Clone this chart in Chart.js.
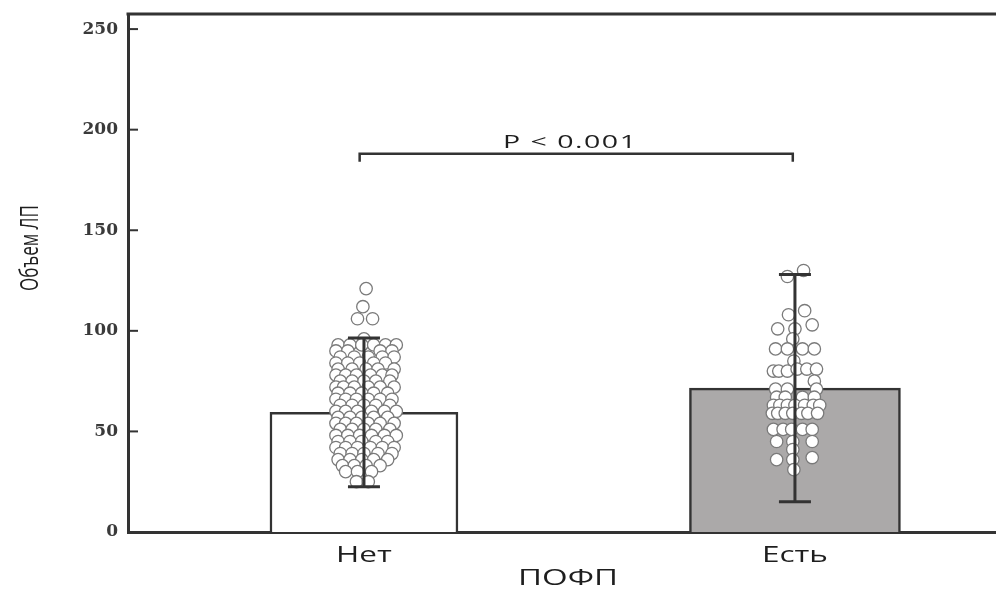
<!DOCTYPE html>
<html>
<head>
<meta charset="utf-8">
<script src="https://cdn.jsdelivr.net/npm/chart.js@4"></script>
<style>
  html, body { margin: 0; padding: 0; background: #fff; overflow: hidden; }
  #wrap { width: 996px; height: 595px; }
  canvas { display: block; }
</style>
</head>
<body>
<div id="wrap"><canvas id="chart"></canvas></div>
<script>
// groups on the x axis (x = 1 and x = 3)
const groups = ["Нет", "Есть"];
const groupX = [1, 3];
const means = [59.5, 71.5];
const sdLow = [22.5, 15];
const sdHigh = [96.5, 128];
const yTicks = [0, 50, 100, 150, 200, 250];

// individual observations, [x, y]
const netPoints = [
  [1.01, 121], [0.995, 112], [0.97, 106], [1.04, 106], [1.0, 96],
  [0.88, 93], [0.935, 93], [0.99, 93], [1.045, 93], [1.10, 93], [1.15, 93],
  [0.87, 90], [0.925, 90], [1.075, 90], [1.13, 90],
  [0.89, 87], [0.955, 87], [1.02, 87], [1.085, 87], [1.14, 87],
  [0.87, 84], [0.925, 84], [0.98, 84], [1.045, 84], [1.10, 84],
  [0.88, 81], [0.945, 81], [1.01, 81], [1.065, 81], [1.14, 81],
  [0.87, 78], [0.915, 78], [0.965, 78], [1.03, 78], [1.085, 78], [1.13, 78],
  [0.89, 75], [0.945, 75], [1.0, 75], [1.055, 75], [1.12, 75],
  [0.87, 72], [0.905, 72], [0.955, 72], [1.02, 72], [1.075, 72], [1.14, 72],
  [0.88, 69], [0.935, 69], [0.99, 69], [1.045, 69], [1.11, 69],
  [0.87, 66], [0.915, 66], [0.965, 66], [1.02, 66], [1.075, 66], [1.13, 66],
  [0.89, 63], [0.945, 63], [1.0, 63], [1.055, 63], [1.12, 63],
  [0.87, 60], [0.915, 60], [0.97, 60], [1.035, 60], [1.095, 60], [1.15, 60],
  [0.88, 57], [0.935, 57], [0.99, 57], [1.045, 57], [1.11, 57],
  [0.87, 54], [0.915, 54], [0.965, 54], [1.02, 54], [1.075, 54], [1.14, 54],
  [0.89, 51], [0.945, 51], [1.0, 51], [1.055, 51], [1.12, 51],
  [0.87, 48], [0.925, 48], [0.98, 48], [1.035, 48], [1.095, 48], [1.15, 48],
  [0.88, 45], [0.935, 45], [0.99, 45], [1.055, 45], [1.11, 45],
  [0.87, 42], [0.915, 42], [0.97, 42], [1.03, 42], [1.085, 42], [1.14, 42],
  [0.89, 39], [0.945, 39], [1.0, 39], [1.065, 39], [1.13, 39],
  [0.88, 36], [0.935, 36], [0.99, 36], [1.045, 36], [1.11, 36],
  [0.90, 33], [0.955, 33], [1.01, 33], [1.075, 33],
  [0.915, 30], [0.97, 30], [1.035, 30],
  [0.965, 25], [1.02, 25]
];

const estPoints = [
  [2.965, 127], [3.04, 130],
  [2.97, 108], [3.045, 110],
  [2.92, 101], [3.0, 101], [3.08, 103],
  [2.99, 96],
  [2.91, 91], [2.965, 91], [3.035, 91], [3.09, 91],
  [2.995, 85],
  [2.90, 80], [2.925, 80], [2.965, 80], [3.01, 81], [3.055, 81], [3.10, 81],
  [3.09, 75],
  [2.91, 71], [2.965, 71], [3.10, 71],
  [2.915, 67], [2.955, 67], [3.035, 67], [3.09, 67],
  [2.90, 63], [2.93, 63], [2.965, 63], [3.0, 63], [3.045, 63], [3.085, 63], [3.115, 63],
  [2.895, 59], [2.92, 59], [2.955, 59], [2.99, 59], [3.03, 59], [3.06, 59], [3.105, 59],
  [2.90, 51], [2.945, 51], [2.985, 51], [3.035, 51], [3.08, 51],
  [2.915, 45], [2.99, 45], [3.08, 45],
  [2.99, 41],
  [2.915, 36], [2.99, 36], [3.08, 37],
  [2.995, 31]
];

// significance bracket
const bracketFrom = 0.98;
const bracketTo = 2.99;
const bracketY = 188;
const bracketLabel = "P < 0.001";

const INK = "#333";
const STRETCH = 1.5; // the scanned figure is wider than tall, text looks stretched

// draw a scale's labels and title stretched horizontally
function stretchScale(scale) {
  if (scale._stretched) return;
  scale._stretched = true;
  const proto = Object.getPrototypeOf(scale);
  scale.drawLabels = function (area) {
    const items = this.getLabelItems(area);
    const kept = items.map(it => it.options.translation);
    items.forEach((it, i) => { it.options.translation = [kept[i][0] / STRETCH, kept[i][1]]; });
    this.ctx.save();
    this.ctx.scale(STRETCH, 1);
    proto.drawLabels.call(this, area);
    this.ctx.restore();
    items.forEach((it, i) => { it.options.translation = kept[i]; });
  };
  scale.drawTitle = function () {
    const l = this.left, r = this.right;
    this.left = (l + 6) / STRETCH; this.right = (r + 6) / STRETCH;
    this.ctx.save();
    this.ctx.scale(STRETCH, 1);
    proto.drawTitle.call(this);
    this.ctx.restore();
    this.left = l; this.right = r;
  };
}

const extras = {
  id: "extras",
  beforeDraw(chart) {
    stretchScale(chart.scales.x);
  },
  afterDatasetsDraw(chart) {
    const ctx = chart.ctx;
    const x = chart.scales.x, y = chart.scales.y;
    const area = chart.chartArea;
    ctx.save();
    ctx.strokeStyle = INK;
    ctx.lineCap = "butt";

    // error bars
    ctx.lineWidth = 3;
    groupX.forEach((gx, i) => {
      const px = x.getPixelForValue(gx);
      const top = y.getPixelForValue(sdHigh[i]);
      const bot = y.getPixelForValue(sdLow[i]);
      ctx.beginPath();
      ctx.moveTo(px, top); ctx.lineTo(px, bot);
      ctx.moveTo(px - 16, top); ctx.lineTo(px + 16, top);
      ctx.moveTo(px - 16, bot); ctx.lineTo(px + 16, bot);
      ctx.stroke();
    });

    // top frame line
    ctx.lineWidth = 3;
    ctx.beginPath();
    ctx.moveTo(area.left - 1.5, area.top);
    ctx.lineTo(chart.width, area.top);
    ctx.stroke();

    // inside tick marks on y axis
    ctx.lineWidth = 2;
    yTicks.forEach(v => {
      const py = y.getPixelForValue(v);
      ctx.beginPath();
      ctx.moveTo(area.left, py); ctx.lineTo(area.left + 10, py);
      ctx.stroke();
    });

    // bracket
    const bx1 = x.getPixelForValue(bracketFrom);
    const bx2 = x.getPixelForValue(bracketTo);
    const by = y.getPixelForValue(bracketY);
    ctx.lineWidth = 2.5;
    ctx.beginPath();
    ctx.moveTo(bx1, by + 8); ctx.lineTo(bx1, by); ctx.lineTo(bx2, by); ctx.lineTo(bx2, by + 8);
    ctx.stroke();

    ctx.fillStyle = "#1e1e1e";
    ctx.textAlign = "center";
    ctx.textBaseline = "alphabetic";
    ctx.save();
    ctx.translate((bx1 + bx2) / 2 - 6, by - 6);
    ctx.scale(STRETCH, 1);
    ctx.font = "19px 'Open Sans'";
    ctx.letterSpacing = "1px";
    ctx.fillText(bracketLabel, 0, 0);
    ctx.restore();

    // y axis title
    ctx.translate(31, 248);
    ctx.rotate(-Math.PI / 2);
    ctx.scale(1, STRETCH);
    ctx.font = "17px 'Open Sans'";
    ctx.textBaseline = "middle";
    ctx.fillText("Объем ЛП", 0, 0);
    ctx.restore();
  }
};

new Chart(document.getElementById("chart"), {
  type: "bar",
  data: {
    datasets: [
      {
        type: "bar",
        data: [{ x: groupX[0], y: means[0] }],
        backgroundColor: "#ffffff",
        borderColor: INK,
        borderWidth: 2.5,
        borderSkipped: "bottom",
        barThickness: 188,
        grouped: false,
        order: 3
      },
      {
        type: "bar",
        data: [{ x: groupX[1], y: means[1] }],
        backgroundColor: "#aba9a9",
        borderColor: INK,
        borderWidth: 2.5,
        borderSkipped: "bottom",
        barThickness: 211,
        grouped: false,
        order: 3
      },
      {
        type: "scatter",
        data: netPoints.map(p => ({ x: p[0], y: p[1] })),
        pointRadius: 6.2,
        pointBackgroundColor: "#ffffff",
        pointBorderColor: "#7a7a7a",
        pointBorderWidth: 1.3,
        order: 1
      },
      {
        type: "scatter",
        data: estPoints.map(p => ({ x: p[0], y: p[1] })),
        pointRadius: 6.2,
        pointBackgroundColor: "#ffffff",
        pointBorderColor: "#7a7a7a",
        pointBorderWidth: 1.3,
        order: 1
      }
    ]
  },
  options: {
    responsive: true,
    maintainAspectRatio: false,
    animation: false,
    layout: { autoPadding: false, padding: { top: 14, right: 0, left: 0, bottom: 0 } },
    plugins: {
      legend: { display: false },
      tooltip: { enabled: false }
    },
    scales: {
      x: {
        type: "linear",
        offset: false,
        min: -0.095,
        max: 3.933,
        grid: { display: false, drawTicks: false },
        border: { display: true, color: INK, width: 3 },
        afterBuildTicks: (scale) => { scale.ticks = groupX.map(v => ({ value: v })); },
        afterFit: (scale) => { scale.height = 63; scale.paddingLeft = 0; scale.paddingRight = 0; },
        ticks: {
          autoSkip: false,
          maxRotation: 0,
          padding: 11,
          color: "#1e1e1e",
          font: { family: "'Open Sans'", size: 21 },
          callback: (v) => groups[groupX.indexOf(v)] || ""
        },
        title: {
          display: true,
          text: "ПОФП",
          color: "#1e1e1e",
          font: { family: "'Open Sans'", size: 22 },
          padding: { top: 0, bottom: 3 }
        }
      },
      y: {
        min: 0,
        max: 257.5,
        grid: { display: false, drawTicks: false },
        border: { display: true, color: INK, width: 3 },
        afterBuildTicks: (scale) => { scale.ticks = yTicks.map(v => ({ value: v })); },
        afterFit: (scale) => { scale.width = 128; scale.paddingTop = 0; scale.paddingBottom = 0; },
        ticks: {
          padding: 10,
          color: "#3a3a3a",
          font: { family: "'DejaVu Serif'", size: 17, weight: "bold" }
        }
      }
    }
  },
  plugins: [extras]
});
</script>
</body>
</html>
